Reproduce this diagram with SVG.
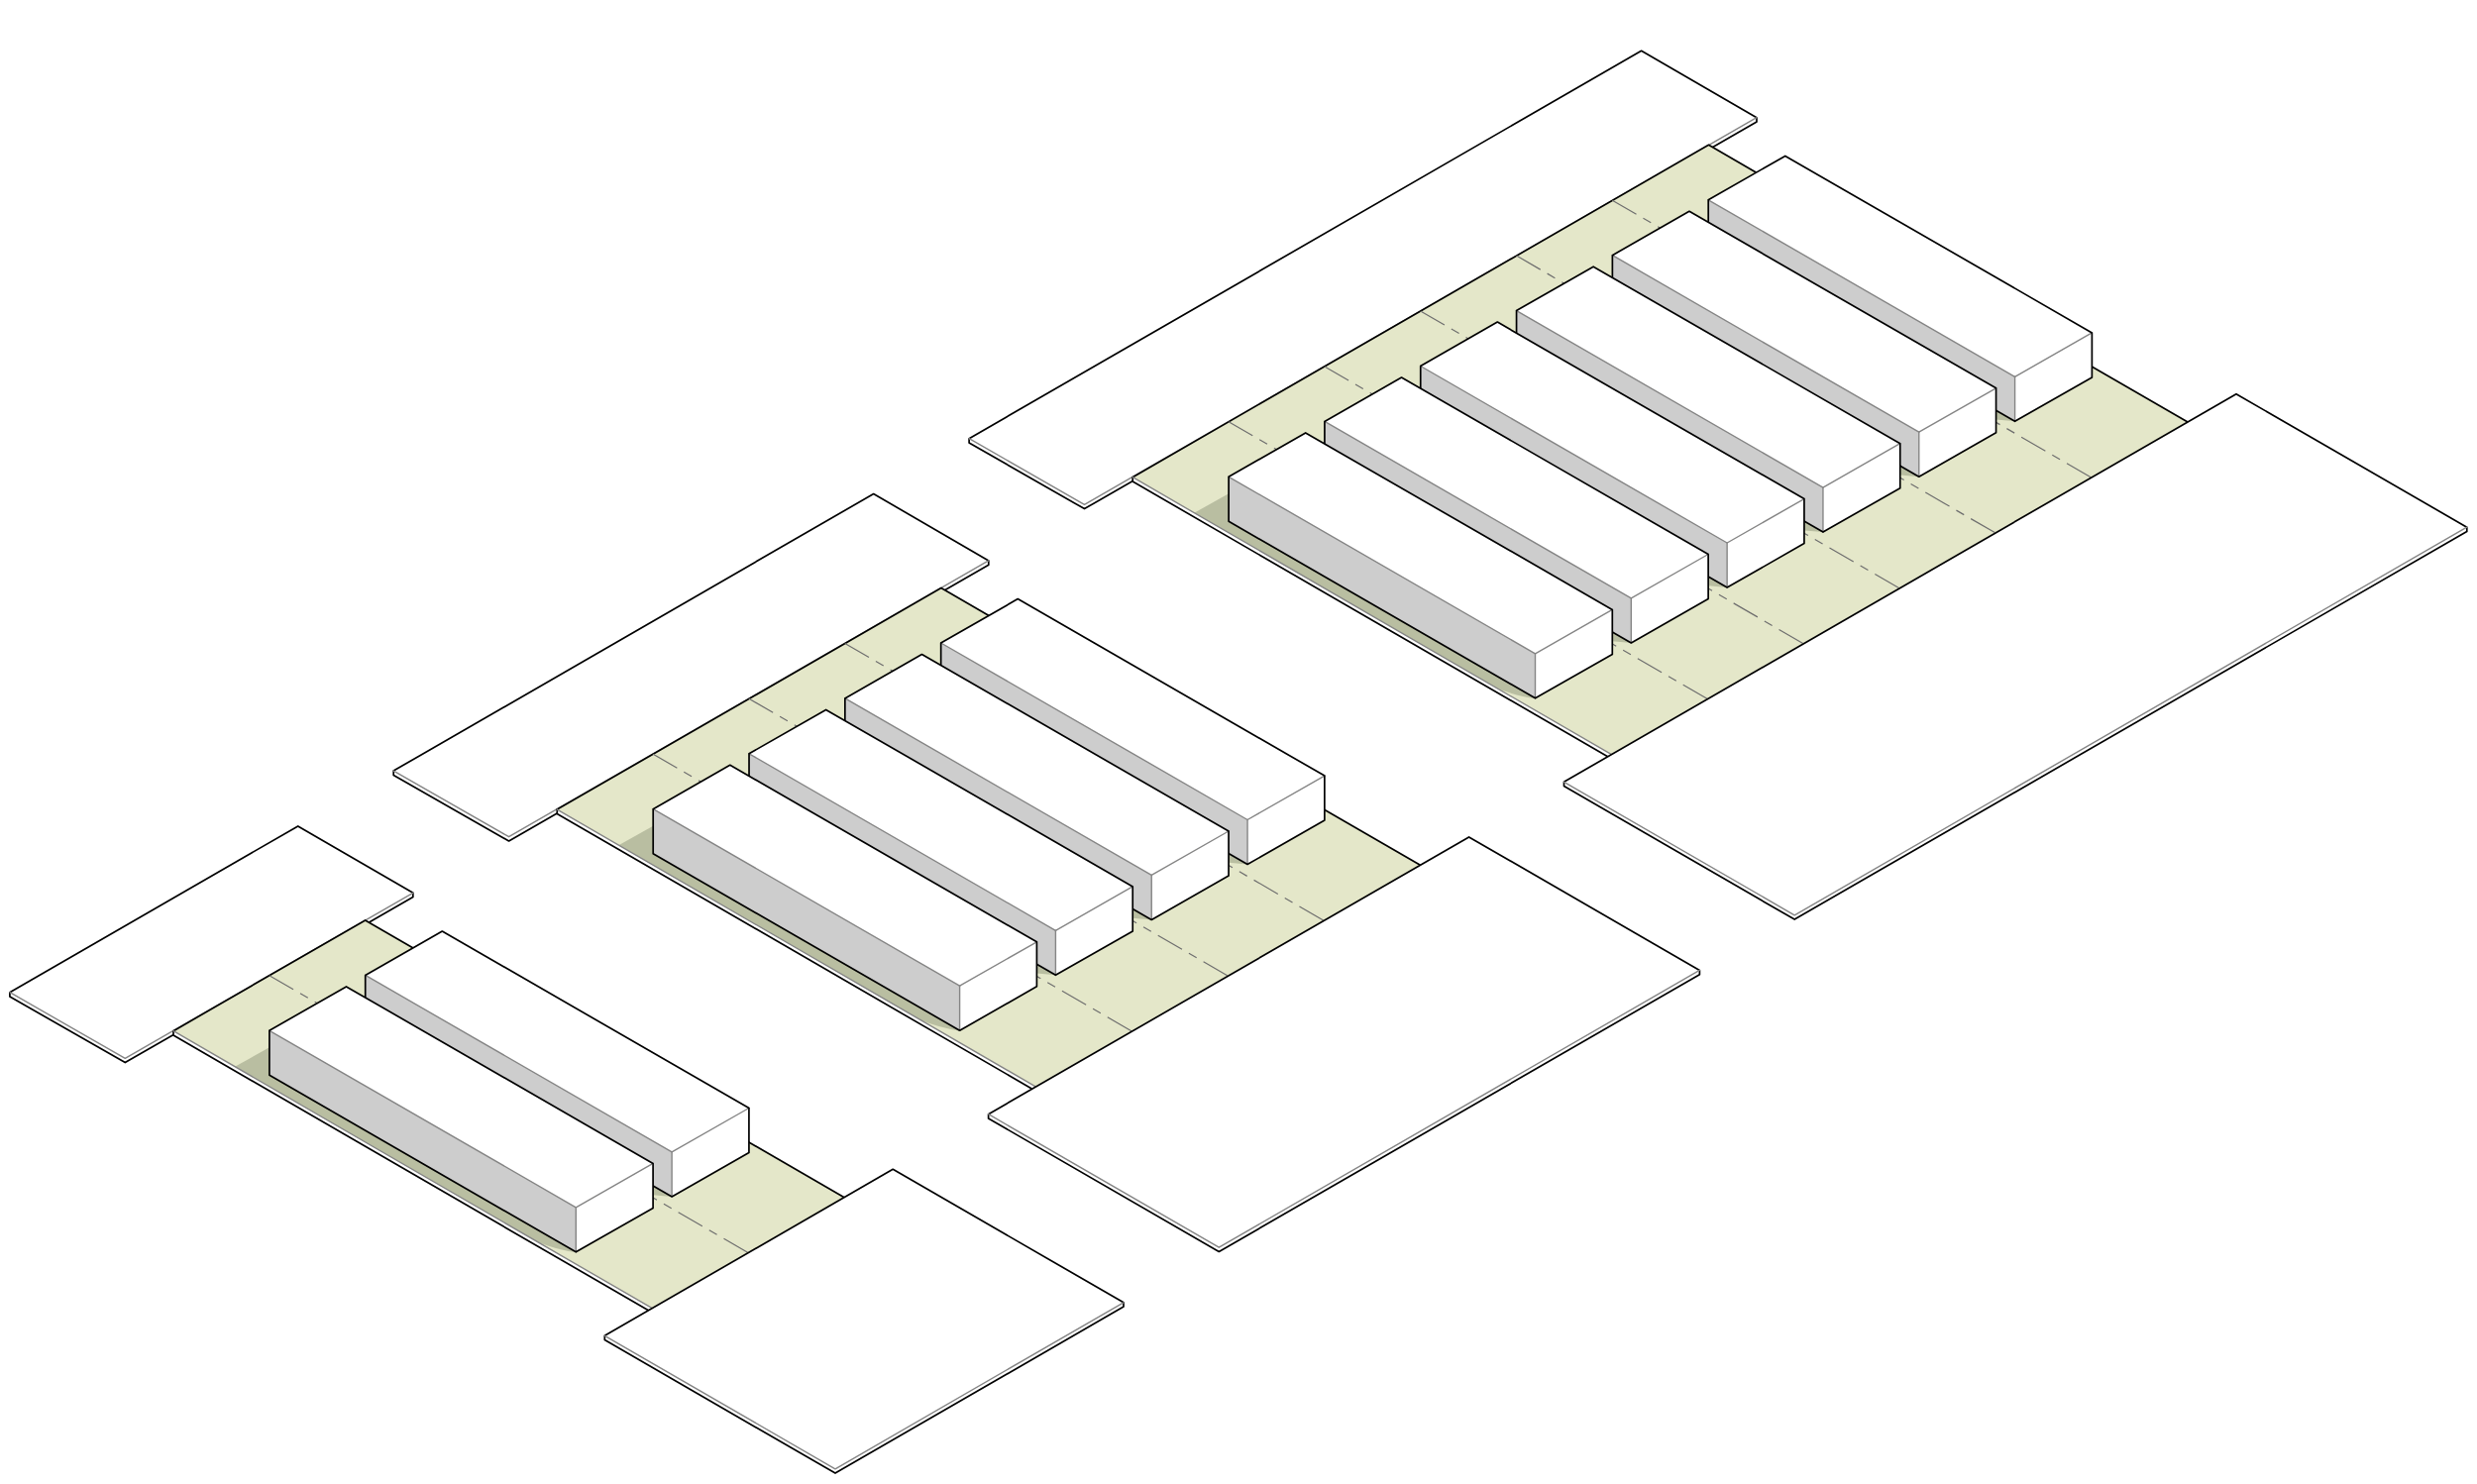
<svg xmlns="http://www.w3.org/2000/svg" width="2500" height="1498" viewBox="0 0 2500 1498">
<style>
.bg{fill:#fff}
.k{fill:none;stroke:#000;stroke-width:1.7;stroke-linejoin:round;stroke-linecap:round}
.g{fill:none;stroke:#858585;stroke-width:1.4;stroke-linejoin:round;stroke-linecap:round}
.w{fill:#fff;stroke:#000;stroke-width:1.7;stroke-linejoin:round}
.lawn{fill:#e4e7c9}
.shade{fill:#b9bea1}
.side{fill:#cdcdcd}
.top{fill:#fff}
.d{fill:none;stroke:#6e6e6e;stroke-width:1.2;stroke-dasharray:28 8 9 8}
</style>
<defs>
<g id="bldg">
<polygon class="top" points="0,0 77.6,-44.4 387.2,134.1 309.4,178.5"/>
<polygon class="side" points="0,0 309.4,178.5 309.4,223.5 0,45"/>
<polygon class="top" points="309.4,178.5 387.2,134.1 387.2,179.1 309.4,223.5"/>
<polyline class="g" points="0,0 309.4,178.5 387.2,134.1"/>
<line class="g" x1="309.4" y1="178.5" x2="309.4" y2="223.5"/>
<polygon class="k" points="0,0 77.6,-44.4 387.2,134.1 387.2,179.1 309.4,223.5 0,45"/>
</g>
<polygon id="nick" class="shade" points="290.5,212.5 290.5,221.8 309.4,223.5"/>
<path id="shadow" class="shade" d="M96.9,16.6 L61.6,36.3 L365,212 Q388,221.3 406.2,223.3 Z"/>
</defs>
<rect class="bg" width="2500" height="1498"/>

<g id="block-a">
<g id="plate-a-back">
<polygon class="w" points="300.74,833.9 416.84,901.3 416.84,905.6 126.3,1072.6 9.9,1006 9.9,1001.7"/>
<polyline class="g" points="9.9,1001.7 126.3,1068.3 416.84,901.3"/>
</g>
<g id="lawn-a">
<polygon class="lawn" points="175,1040.7 368.64,928.9 851.7,1208.4 657.5,1320.2"/>
<polyline class="k" points="175,1040.7 368.64,928.9 851.7,1208.4"/>
<line class="d" x1="271.82" y1="984.8" x2="754.6" y2="1264.3"/>
<use href="#shadow" x="175" y="1040.7"/>
<polygon class="top" points="175,1040.7 657.5,1320.2 657.5,1324.5 175,1045"/>
<polyline class="k" points="175,1040.7 175,1045 657.5,1324.5"/>
<line class="g" x1="175" y1="1040.7" x2="657.5" y2="1320.2"/>
</g>
<g id="building-a2"><use href="#nick" x="368.72" y="984.4"/><use href="#bldg" x="368.72" y="984.4"/></g>
<g id="building-a1"><use href="#bldg" x="271.9" y="1040.3"/></g>
<g id="plate-a-front">
<polygon class="w" points="610.3,1348.3 901.2,1180.3 1134,1314.8 1134,1319.1 843,1487.1 610.3,1352.6"/>
<polyline class="g" points="610.3,1348.3 843,1482.8 1134,1314.8"/>
</g>
</g>

<g id="block-b">
<g id="plate-b-back">
<polygon class="w" points="881.68,498.5 997.78,565.9 997.78,570.2 513.6,849 397.2,782.4 397.2,778.1"/>
<polyline class="g" points="397.2,778.1 513.6,844.7 997.78,565.9"/>
</g>
<g id="lawn-b">
<polygon class="lawn" points="562.3,817.1 949.9,593.5 1433,873 1044.8,1096.6"/>
<polyline class="k" points="562.3,817.1 949.9,593.5 1433,873"/>
<line class="d" x1="659.12" y1="761.2" x2="1141.9" y2="1040.7"/>
<line class="d" x1="755.94" y1="705.3" x2="1238.7" y2="984.8"/>
<line class="d" x1="852.76" y1="649.4" x2="1335.6" y2="928.9"/>
<use href="#shadow" x="562.3" y="817.1"/>
<polygon class="top" points="562.3,817.1 1044.8,1096.6 1044.8,1100.9 562.3,821.4"/>
<polyline class="k" points="562.3,817.1 562.3,821.4 1044.8,1100.9"/>
<line class="g" x1="562.3" y1="817.1" x2="1044.8" y2="1096.6"/>
</g>
<g id="building-b4"><use href="#nick" x="949.66" y="649"/><use href="#bldg" x="949.66" y="649"/></g>
<g id="building-b3"><use href="#nick" x="852.84" y="704.9"/><use href="#bldg" x="852.84" y="704.9"/></g>
<g id="building-b2"><use href="#nick" x="756.02" y="760.8"/><use href="#bldg" x="756.02" y="760.8"/></g>
<g id="building-b1"><use href="#bldg" x="659.2" y="816.7"/></g>
<g id="plate-b-front">
<polygon class="w" points="997.6,1124.7 1482.6,844.9 1715.4,979.4 1715.4,983.7 1230.3,1263.5 997.6,1129"/>
<polyline class="g" points="997.6,1124.7 1230.3,1259.2 1715.4,979.4"/>
</g>
</g>

<g id="block-c">
<g id="plate-c-back">
<polygon class="w" points="1656.6,51.3 1773,118.7 1773,123 1094.5,513.6 978.1,447 978.1,442.7"/>
<polyline class="g" points="978.1,442.7 1094.5,509.3 1773,118.7"/>
</g>
<g id="lawn-c">
<polygon class="lawn" points="1143.2,481.7 1724.5,146.3 2207.6,425.8 1625.7,761.2"/>
<polyline class="k" points="1143.2,481.7 1724.5,146.3 2207.6,425.8"/>
<line class="d" x1="1240.02" y1="425.8" x2="1722.9" y2="705.3"/>
<line class="d" x1="1336.84" y1="369.9" x2="1819.7" y2="649.4"/>
<line class="d" x1="1433.66" y1="314" x2="1916.5" y2="593.5"/>
<line class="d" x1="1530.48" y1="258.1" x2="2013.3" y2="537.6"/>
<line class="d" x1="1627.3" y1="202.2" x2="2110.2" y2="481.7"/>
<use href="#shadow" x="1143.2" y="481.7"/>
<polygon class="top" points="1143.2,481.7 1625.7,761.2 1625.7,765.5 1143.2,486"/>
<polyline class="k" points="1143.2,481.7 1143.2,486 1625.7,765.5"/>
<line class="g" x1="1143.2" y1="481.7" x2="1625.7" y2="761.2"/>
</g>
<g id="building-c6"><use href="#nick" x="1724.2" y="201.8"/><use href="#bldg" x="1724.2" y="201.8"/></g>
<g id="building-c5"><use href="#nick" x="1627.38" y="257.7"/><use href="#bldg" x="1627.38" y="257.7"/></g>
<g id="building-c4"><use href="#nick" x="1530.56" y="313.6"/><use href="#bldg" x="1530.56" y="313.6"/></g>
<g id="building-c3"><use href="#nick" x="1433.74" y="369.5"/><use href="#bldg" x="1433.74" y="369.5"/></g>
<g id="building-c2"><use href="#nick" x="1336.92" y="425.4"/><use href="#bldg" x="1336.92" y="425.4"/></g>
<g id="building-c1"><use href="#bldg" x="1240.1" y="481.3"/></g>
<g id="plate-c-front">
<polygon class="w" points="1578.5,789.3 2257,397.7 2489.8,532.2 2489.8,536.5 1811.2,928.1 1578.5,793.6"/>
<polyline class="g" points="1578.5,789.3 1811.2,923.8 2489.8,532.2"/>
</g>
</g>
</svg>
